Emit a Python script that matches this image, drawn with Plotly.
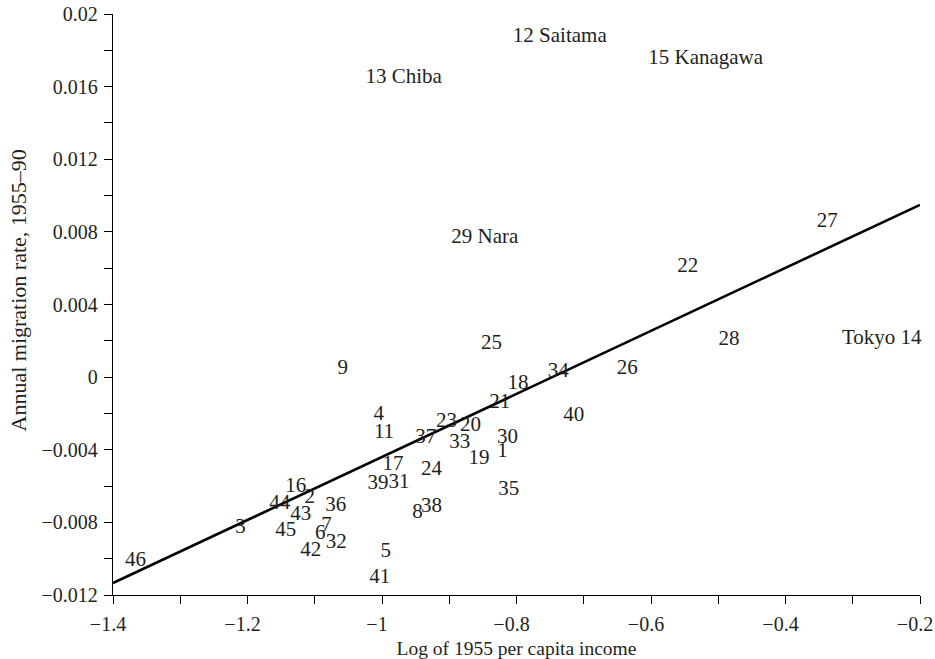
import plotly.graph_objects as go

# Prefecture labels and positions (log 1955 per capita income, annual migration rate 1955-90)
labels = ["46", "3", "16", "44", "2", "36", "43", "45", "7", "6", "32", "42", "41",
          "25", "34", "18", "21", "40", "4", "11", "23", "20", "37", "33", "30", "1",
          "19", "17", "24", "39", "31", "35", "38", "8", "9", "5", "26", "28", "22",
          "27", "Tokyo 14", "12 Saitama", "15 Kanagawa", "13 Chiba", "29 Nara"]
x_income = [-1.3665, -1.2103, -1.1284, -1.1522, -1.1076, -1.0689, -1.1210, -1.1433,
            -1.0827, -1.0917, -1.0679, -1.1061, -1.0034,
            -0.8372, -0.7381, -0.7976, -0.8249, -0.7147, -1.0049, -0.9970, -0.9042,
            -0.8685, -0.9350, -0.8844, -0.8134, -0.8208, -0.8557, -0.9836, -0.9265,
            -1.0060, -0.9747, -0.8115, -0.9265, -0.9473, -1.0585, -0.9945, -0.6354,
            -0.4841, -0.5455, -0.3378, -0.2568, -0.7356, -0.5187, -0.9677, -0.8472]
y_migration = [-0.01011, -0.00831, -0.00606, -0.00697, -0.00666, -0.00707, -0.00758,
               -0.00844, -0.00819, -0.00863, -0.00914, -0.00956, -0.01105,
               0.00183, 0.00031, -0.00037, -0.00143, -0.00213, -0.00208, -0.00305,
               -0.00244, -0.00268, -0.00336, -0.00363, -0.00336, -0.00410, -0.00451,
               -0.00483, -0.00510, -0.00587, -0.00584, -0.00620, -0.00716, -0.00745,
               0.00046, -0.00962, 0.00046, 0.00205, 0.00609, 0.00857, 0.00209,
               0.01875, 0.01756, 0.01651, 0.00767]

# Fitted regression line (endpoints)
fit_x = [-1.4, -0.2]
fit_y = [-0.01134, 0.00949]

x_tickvals = [-1.4, -1.2, -1.0, -0.8, -0.6, -0.4, -0.2]
x_ticktext = ["\u22121.4", "\u22121.2", "\u22121", "\u22120.8", "\u22120.6", "\u22120.4", "\u22120.2"]
x_minor = [-1.3, -1.1, -0.9, -0.7, -0.5, -0.3]
y_tickvals = [-0.012, -0.008, -0.004, 0, 0.004, 0.008, 0.012, 0.016, 0.02]
y_ticktext = ["\u22120.012", "\u22120.008", "\u22120.004", "0", "0.004", "0.008", "0.012", "0.016", "0.02"]
y_minor = [-0.010, -0.006, -0.002, 0.002, 0.006, 0.010, 0.014, 0.018]

FONT = "Liberation Serif, Times New Roman, serif"
INK = "#231f20"

fig = go.Figure()
fig.add_trace(go.Scatter(x=fit_x, y=fit_y, mode="lines",
                         line=dict(color="black", width=2.6),
                         hoverinfo="skip", showlegend=False, cliponaxis=False))
fig.add_trace(go.Scatter(x=x_income, y=y_migration, mode="text", text=labels,
                         textposition="middle center",
                         textfont=dict(family=FONT, size=21, color=INK),
                         showlegend=False, cliponaxis=False))

axis_common = dict(showline=True, linecolor="black", linewidth=1.3,
                   ticks="outside", ticklen=8, tickwidth=1.3, tickcolor="black",
                   showgrid=False, zeroline=False, mirror=False, automargin=False,
                   ticklabeloverflow="allow",
                   tickfont=dict(family=FONT, size=20, color=INK))

# trailing en space keeps the number (not the minus sign) centred on its tick
fig.update_xaxes(range=[-1.4, -0.2], tickmode="array", tickvals=x_tickvals,
                 ticktext=[t + "\u2002" for t in x_ticktext], ticklabelstandoff=3,
                 minor=dict(tickmode="array", tickvals=x_minor, ticks="outside", ticklen=8,
                            tickwidth=1.3, tickcolor="black", showgrid=False),
                 title=dict(text="Log of 1955 per capita income",
                            font=dict(family=FONT, size=19.5, color=INK), standoff=8),
                 **axis_common)
fig.update_yaxes(range=[-0.012, 0.02], tickmode="array", tickvals=y_tickvals, ticktext=y_ticktext,
                 ticklabelstandoff=2,
                 minor=dict(tickmode="array", tickvals=y_minor, ticks="outside", ticklen=8,
                            tickwidth=1.3, tickcolor="black", showgrid=False),
                 **axis_common)

fig.add_annotation(text="Annual migration rate, 1955\u201390", xref="paper", yref="paper",
                   x=0, y=0.5, xanchor="center", yanchor="middle", xshift=-95, yshift=14,
                   textangle=-90, showarrow=False,
                   font=dict(family=FONT, size=22, color=INK))

fig.update_layout(width=935, height=659, plot_bgcolor="white", paper_bgcolor="white",
                  margin=dict(l=113, r=15, t=14, b=64), showlegend=False)

fig.write_html("out.html", config={"displayModeBar": False},
               post_script="document.body.style.margin='0';document.body.style.overflow='hidden';")
